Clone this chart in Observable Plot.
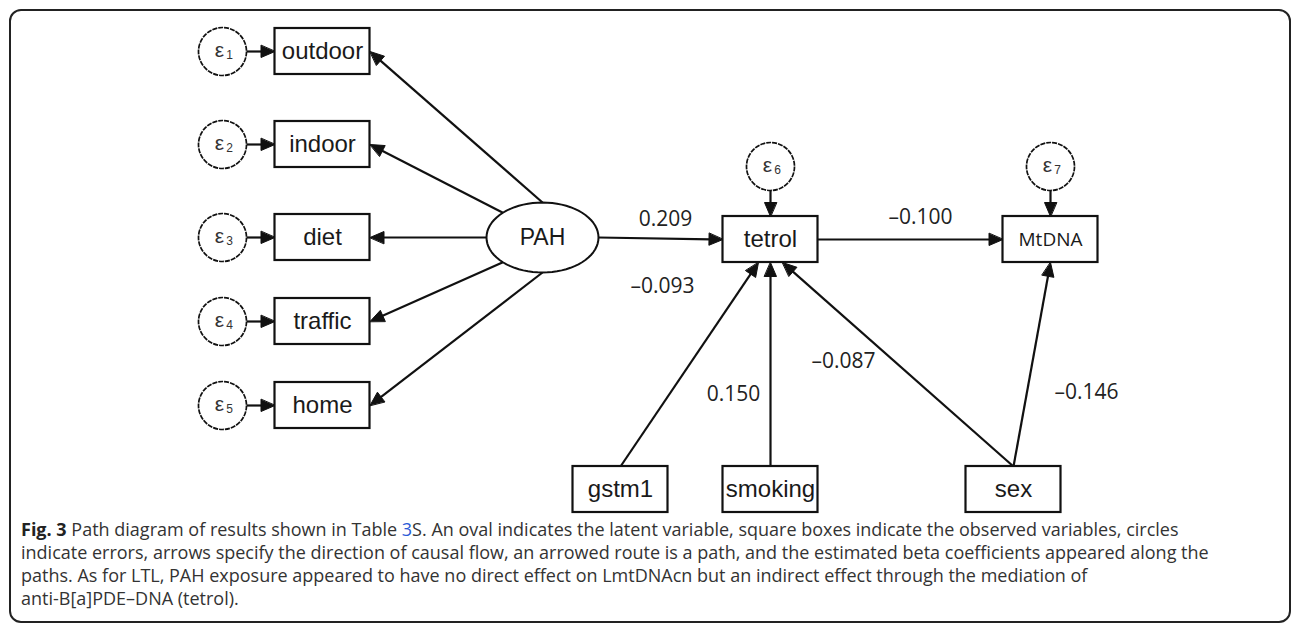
<!DOCTYPE html>
<html>
<head>
<meta charset="utf-8">
<script src="https://cdn.jsdelivr.net/npm/d3@7"></script>
<script src="https://cdn.jsdelivr.net/npm/@observablehq/plot@0.6"></script>
<style>
  html, body { margin: 0; padding: 0; background: #fff; }
  #wrap { position: relative; width: 1295px; height: 624px; overflow: hidden; background: #fff; }
  #chart { position: absolute; left: 0; top: 0; }
  #frame { position: absolute; left: 9px; top: 9px; width: 1282px; height: 614px; box-sizing: border-box;
           border: 2px solid #222; border-radius: 12px; pointer-events: none; z-index: 2; }
  #caption { position: absolute; left: 21px; top: 518px; width: 1260px; font-family: "Open Sans", sans-serif;
             font-size: 18px; line-height: 23px; color: #333; white-space: nowrap; letter-spacing: 0px; }
  #caption b { color: #222; }
  #caption a { color: #2a5bd7; text-decoration: none; }
</style>
</head>
<body>
<div id="wrap">
  <div id="chart"></div>
  <div id="caption"></div>
  <div id="frame"></div>
</div>
<script>
// ---------------- data ----------------
const indicators   = ["outdoor", "indoor", "diet", "traffic", "home"];
const errorIndex   = [1, 2, 3, 4, 5, 6, 7];
const errorTargets = ["outdoor", "indoor", "diet", "traffic", "home", "tetrol", "MtDNA"];
const latent       = ["PAH"];
const observed     = ["tetrol", "MtDNA", "gstm1", "smoking", "sex"];
const pathFrom     = ["PAH", "tetrol", "gstm1", "smoking", "sex", "sex"];
const pathTo       = ["tetrol", "MtDNA", "tetrol", "tetrol", "tetrol", "MtDNA"];
const pathCoef     = [0.209, -0.100, -0.093, 0.150, -0.087, -0.146];
const captionLines = [
  "<b>Fig. 3</b> Path diagram of results shown in Table <a>3</a>S. An oval indicates the latent variable, square boxes indicate the observed variables, circles",
  "indicate errors, arrows specify the direction of causal flow, an arrowed route is a path, and the estimated beta coefficients appeared along the",
  "paths. As for LTL, PAH exposure appeared to have no direct effect on LmtDNAcn but an indirect effect through the mediation of",
  "anti-B[a]PDE\u2013DNA (tetrol)."
];

// ---------------- layout (diagram geometry, in drawing units) ----------------
const W = 1295, H = 514;
const BOX_W = 95, BOX_H = 46, ERR_R = 24;
const ELL = {rx: 56, ry: 35};
const nodePos = {
  outdoor: [322, 51], indoor: [322, 144], diet: [322, 237], traffic: [322, 321], home: [322, 405],
  PAH: [542, 237], tetrol: [770, 239], MtDNA: [1050, 239],
  gstm1: [620, 489], smoking: [770, 489], sex: [1013, 489]
};
const errorOffset = {outdoor: [-100, 0], indoor: [-100, 0], diet: [-100, 0], traffic: [-100, 0], home: [-100, 0],
                     tetrol: [0, -73], MtDNA: [0, -73]};
const indicatorAngle = [90, 135, 180, 225, 270];           // port on the oval
const inPortDx = {gstm1: -12, smoking: 0, sex: 12};         // ports under tetrol
const labelPos = [[665, 219], [920, 217], [662, 286], [733, 394], [843, 361], [1086, 392]];

// ---------------- derived geometry ----------------
const fmt = v => (v < 0 ? "\u2013" : "") + Math.abs(v).toFixed(3);
const boxes = observed.concat(indicators).map(n => ({
  name: n, x1: nodePos[n][0] - BOX_W / 2, x2: nodePos[n][0] + BOX_W / 2,
  y1: nodePos[n][1] - BOX_H / 2, y2: nodePos[n][1] + BOX_H / 2, cx: nodePos[n][0], cy: nodePos[n][1]
}));
const errors = errorIndex.map((k, i) => {
  const t = errorTargets[i];
  return {k, target: t, x: nodePos[t][0] + errorOffset[t][0], y: nodePos[t][1] + errorOffset[t][1]};
});
const ellipse = d3.range(0, 73).map(i => {
  const a = i / 72 * 2 * Math.PI;
  return {x: nodePos.PAH[0] + ELL.rx * Math.cos(a), y: nodePos.PAH[1] + ELL.ry * Math.sin(a)};
});

const edges = [];
errors.forEach(e => {
  const [tx, ty] = nodePos[e.target];
  if (e.x < tx - 1) edges.push({x1: e.x + ERR_R, y1: e.y, x2: tx - BOX_W / 2, y2: ty});
  else edges.push({x1: e.x, y1: e.y + ERR_R, x2: tx, y2: ty - BOX_H / 2});
});
indicators.forEach((n, i) => {
  const a = indicatorAngle[i] * Math.PI / 180;
  const [cx, cy] = nodePos.PAH;
  edges.push({x1: cx + ELL.rx * Math.cos(a), y1: cy - ELL.ry * Math.sin(a),
              x2: nodePos[n][0] + BOX_W / 2, y2: nodePos[n][1]});
});
const coefLabels = [];
pathFrom.forEach((f, i) => {
  const t = pathTo[i];
  let x1, y1, x2, y2;
  if (f === "PAH") { x1 = nodePos.PAH[0] + ELL.rx; y1 = nodePos.PAH[1]; x2 = nodePos[t][0] - BOX_W / 2; y2 = nodePos[t][1]; }
  else if (nodePos[f][1] === nodePos[t][1]) { x1 = nodePos[f][0] + BOX_W / 2; y1 = nodePos[f][1]; x2 = nodePos[t][0] - BOX_W / 2; y2 = nodePos[t][1]; }
  else {
    x1 = nodePos[f][0]; y1 = nodePos[f][1] - BOX_H / 2;
    x2 = nodePos[t][0] + (t === "tetrol" ? inPortDx[f] : 0); y2 = nodePos[t][1] + BOX_H / 2;
  }
  edges.push({x1, y1, x2, y2});
  coefLabels.push({text: fmt(pathCoef[i]), x: labelPos[i][0], y: labelPos[i][1]});
});

const HEAD_L = 14, HEAD_W = 6;
const heads = [];
edges.forEach((e, i) => {
  const dx = e.x2 - e.x1, dy = e.y2 - e.y1, len = Math.hypot(dx, dy);
  const ux = dx / len, uy = dy / len;
  const bx = e.x2 - ux * HEAD_L, by = e.y2 - uy * HEAD_L;
  e.sx = bx + ux * 2; e.sy = by + uy * 2;
  heads.push({id: i, x: e.x2, y: e.y2});
  heads.push({id: i, x: bx - uy * HEAD_W, y: by + ux * HEAD_W});
  heads.push({id: i, x: bx + uy * HEAD_W, y: by - ux * HEAD_W});
});

const ink = "#111";
const chart = Plot.plot({
  width: W, height: H, margin: 0,
  style: {background: "transparent", overflow: "visible"},
  x: {domain: [0, W], range: [0, W], axis: null},
  y: {domain: [0, H], range: [0, H], axis: null},
  marks: [
    Plot.link(edges, {x1: "x1", y1: "y1", x2: "sx", y2: "sy", stroke: ink, strokeWidth: 2.2}),
    Plot.line(heads, {x: "x", y: "y", z: "id", curve: "linear-closed", fill: ink, stroke: ink, strokeWidth: 1}),
    Plot.rect(boxes, {x1: "x1", x2: "x2", y1: "y1", y2: "y2", fill: "white", stroke: ink, strokeWidth: 2.2}),
    Plot.line(ellipse, {x: "x", y: "y", curve: "linear-closed", fill: "white", stroke: ink, strokeWidth: 2}),
    Plot.dot(errors, {x: "x", y: "y", r: ERR_R, fill: "white", stroke: ink, strokeWidth: 1.7, strokeDasharray: "5,1"}),
    Plot.text(boxes.filter(b => b.name !== "MtDNA"), {x: "cx", y: "cy", text: "name", fontFamily: "Liberation Sans", fontSize: 24, fill: "#1a1a1a"}),
    Plot.text(boxes.filter(b => b.name === "MtDNA"), {x: "cx", y: "cy", text: "name", fontFamily: "Open Sans", fontSize: 19, fill: "#1a1a1a"}),
    Plot.text(latent, {x: () => nodePos.PAH[0], y: () => nodePos.PAH[1], text: d => d, fontFamily: "Liberation Sans", fontSize: 23, fill: "#1a1a1a"}),
    Plot.text(errors, {x: d => d.x - 3, y: d => d.y - 1, text: () => "\u03b5", fontFamily: "Liberation Sans", fontSize: 21, fill: "#333"}),
    Plot.text(errors, {x: d => d.x + 7, y: d => d.y + 4, text: "k", fontFamily: "Liberation Sans", fontSize: 12, fill: "#333"}),
    Plot.text(coefLabels, {x: "x", y: "y", text: "text", fontFamily: "Open Sans", fontSize: 21, fill: "#222"})
  ]
});
document.getElementById("chart").appendChild(chart);
document.getElementById("caption").innerHTML = captionLines.join("<br>");
</script>
</body>
</html>
